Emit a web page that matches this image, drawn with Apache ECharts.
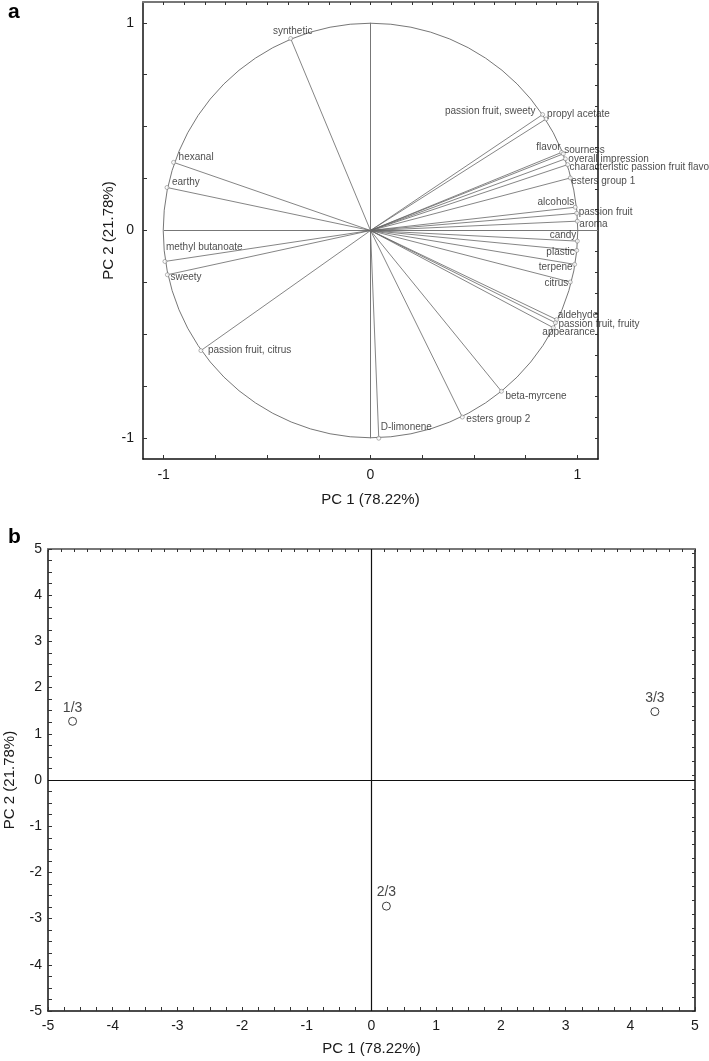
<!DOCTYPE html>
<html>
<head>
<meta charset="utf-8">
<script src="https://cdn.jsdelivr.net/npm/echarts@6.0.0/dist/echarts.min.js"></script>
<style>
  html, body { margin: 0; padding: 0; background: #fff; }
  #chart { width: 709px; height: 1061px; }
</style>
</head>
<body>
<div id="chart"></div>
<script>
// panel a: loadings (correlation circle)
const varNames = [
  "synthetic", "hexanal", "earthy", "methyl butanoate", "sweety", "passion fruit, citrus",
  "passion fruit, sweety", "propyl acetate", "flavor", "sourness", "overall impression",
  "characteristic passion fruit flavor", "esters group 1", "alcohols", "passion fruit", "aroma",
  "candy", "plastic", "terpene", "citrus", "aldehyde", "passion fruit, fruity", "appearance",
  "beta-myrcene", "esters group 2", "D-limonene"
];
const loadPC1 = [
  -0.386, -0.952, -0.984, -0.994, -0.982, -0.820,
  0.832, 0.849, 0.924, 0.932, 0.942,
  0.953, 0.966, 0.990, 0.997, 1.000,
  1.000, 0.997, 0.987, 0.966, 0.900, 0.894, 0.884,
  0.633, 0.444, 0.040
];
const loadPC2 = [
  0.924, 0.328, 0.207, -0.149, -0.213, -0.578,
  0.558, 0.537, 0.376, 0.369, 0.345,
  0.317, 0.253, 0.112, 0.083, 0.045,
  -0.051, -0.096, -0.163, -0.248, -0.429, -0.444, -0.468,
  -0.774, -0.898, -1.000
];
const circleTickLabels = [-1, 0, 1];

// panel b: scores
const sampleNames = ["1/3", "2/3", "3/3"];
const scorePC1 = [-4.62, 0.23, 4.38];
const scorePC2 = [1.27, -2.73, 1.48];
const scoreTickLabels = [-5, -4, -3, -2, -1, 0, 1, 2, 3, 4, 5];

// label placement for panel a: [align, dx, dy]
const labelPlace = [
  ["center", 2, -7], ["left", 5, -5], ["left", 5, -5], ["left", 1, -14], ["left", 3, 3], ["left", 7, 0],
  ["right", -7, -3], ["left", 1, -5], ["right", -1, -5], ["left", 1, -4], ["left", 3, 0],
  ["left", 2, 3], ["left", 1, 3], ["right", -1, -5], ["left", 2, -1], ["left", 2, 3],
  ["right", -1, -6], ["right", -2, 2], ["right", -2, 3], ["right", -2, 1], ["left", 1, -4], ["left", 3, 2], ["left", -11, 5],
  ["left", 4, 5], ["left", 4, 2], ["left", 2, -11]
];

function steps(a, b, s) {
  const out = [];
  for (let v = a; v <= b + 1e-9; v += s) out.push(+v.toFixed(3));
  return out;
}

const font = "'Liberation Sans', Arial, sans-serif";
const dark = "#1a1a1a";

function frameAxis(gridIndex, pos, min, max, opts) {
  const main = pos === "bottom" || pos === "left";
  return {
    gridIndex: gridIndex,
    type: "value",
    position: pos,
    min: min,
    max: max,
    name: main ? opts.name : "",
    nameLocation: "middle",
    nameGap: opts.nameGap,
    nameMoveOverlap: false,
    nameTextStyle: { fontFamily: font, fontSize: 15, color: dark },
    axisLine: {
      show: true,
      onZero: false,
      lineStyle: { color: pos === "top" ? "#777" : "#111", width: pos === "top" ? 2 : 1.5 }
    },
    axisTick: {
      show: true,
      inside: true,
      length: main ? 4 : 3,
      customValues: opts.ticks,
      lineStyle: { color: "#333", width: 1 }
    },
    axisLabel: {
      show: main,
      customValues: opts.labels,
      fontFamily: font,
      fontSize: 14,
      color: dark,
      margin: opts.margin
    },
    splitLine: { show: false }
  };
}

const vectorLines = varNames.map((n, i) => ({ coords: [[0, 0], [loadPC1[i], loadPC2[i]]] }));
const endPoints = varNames.map((n, i) => ({
  name: n,
  value: [loadPC1[i], loadPC2[i]],
  label: {
    align: labelPlace[i][0],
    offset: [labelPlace[i][1], labelPlace[i][2]]
  }
}));
const samples = sampleNames.map((n, i) => ({ name: n, value: [scorePC1[i], scorePC2[i]] }));

const myChart = echarts.init(document.getElementById("chart"));

const option = {
  animation: false,
  backgroundColor: "#fff",
  grid: [
    { left: 143, top: 2, width: 455, height: 457, outerBoundsMode: "none", containLabel: false },
    { left: 48, top: 549, width: 647, height: 462, outerBoundsMode: "none", containLabel: false }
  ],
  xAxis: [
    frameAxis(0, "bottom", -1.1, 1.1, { name: "PC 1 (78.22%)", nameGap: 33, ticks: steps(-1, 1, 0.25), labels: circleTickLabels, margin: 9 }),
    frameAxis(0, "top", -1.1, 1.1, { ticks: steps(-1, 1, 0.1) }),
    frameAxis(1, "bottom", -5, 5, { name: "PC 1 (78.22%)", nameGap: 30, ticks: steps(-5, 5, 0.25), labels: scoreTickLabels, margin: 8 }),
    frameAxis(1, "top", -5, 5, { ticks: steps(-5, 5, 0.2) })
  ],
  yAxis: [
    frameAxis(0, "left", -1.1, 1.1, { name: "PC 2 (21.78%)", nameGap: 27, ticks: steps(-1, 1, 0.25), labels: circleTickLabels, margin: 9 }),
    frameAxis(0, "right", -1.1, 1.1, { ticks: steps(-1, 1, 0.1) }),
    frameAxis(1, "left", -5, 5, { name: "PC 2 (21.78%)", nameGap: 31, ticks: steps(-5, 5, 0.25), labels: scoreTickLabels, margin: 6 }),
    frameAxis(1, "right", -5, 5, { ticks: steps(-5, 5, 0.3) })
  ],
  series: [
    {
      type: "lines",
      coordinateSystem: "cartesian2d",
      xAxisIndex: 0,
      yAxisIndex: 0,
      silent: true,
      lineStyle: { color: "#777", width: 1, opacity: 1 },
      data: [{ coords: [[0, -1], [0, 1]] }, { coords: [[-1, 0], [1.1, 0]] }]
    },
    {
      type: "lines",
      coordinateSystem: "cartesian2d",
      xAxisIndex: 0,
      yAxisIndex: 0,
      silent: true,
      lineStyle: { color: "#666", width: 0.8, opacity: 1 },
      data: vectorLines
    },
    {
      type: "scatter",
      xAxisIndex: 0,
      yAxisIndex: 0,
      symbol: "circle",
      symbolSize: 4,
      itemStyle: { color: "#fff", borderColor: "#777", borderWidth: 0.7 },
      label: {
        show: true,
        position: "inside",
        verticalAlign: "middle",
        formatter: "{b}",
        fontFamily: font,
        fontSize: 10,
        color: "#1a1a1a"
      },
      data: endPoints
    },
    {
      type: "scatter",
      xAxisIndex: 2,
      yAxisIndex: 2,
      symbol: "circle",
      symbolSize: 8,
      itemStyle: { color: "#fff", borderColor: "#111", borderWidth: 1 },
      label: {
        show: true,
        position: "top",
        distance: 2,
        formatter: "{b}",
        fontFamily: font,
        fontSize: 14,
        color: "#111"
      },
      markLine: {
        silent: true,
        symbol: "none",
        label: { show: false },
        lineStyle: { color: "#111", width: 1.2, type: "solid" },
        data: [{ xAxis: 0 }, { yAxis: 0 }]
      },
      data: samples
    }
  ]
};

myChart.setOption(option);

// unit circle drawn through the axis scales
const c0 = myChart.convertToPixel({ gridIndex: 0 }, [0, 0]);
const cx1 = myChart.convertToPixel({ gridIndex: 0 }, [1, 0]);
const cy1 = myChart.convertToPixel({ gridIndex: 0 }, [0, 1]);
const r = ((cx1[0] - c0[0]) + (c0[1] - cy1[1])) / 2;

myChart.setOption({
  graphic: [
    {
      type: "circle",
      shape: { cx: c0[0], cy: c0[1], r: r },
      style: { fill: "none", stroke: "#777", lineWidth: 1 },
      silent: true,
      z: 1
    },
    {
      type: "text",
      left: 8,
      top: 2,
      style: { text: "a", font: "bold 21px " + font, fill: "#000" }
    },
    {
      type: "text",
      left: 8,
      top: 527,
      style: { text: "b", font: "bold 21px " + font, fill: "#000" }
    }
  ]
});
</script>
</body>
</html>
